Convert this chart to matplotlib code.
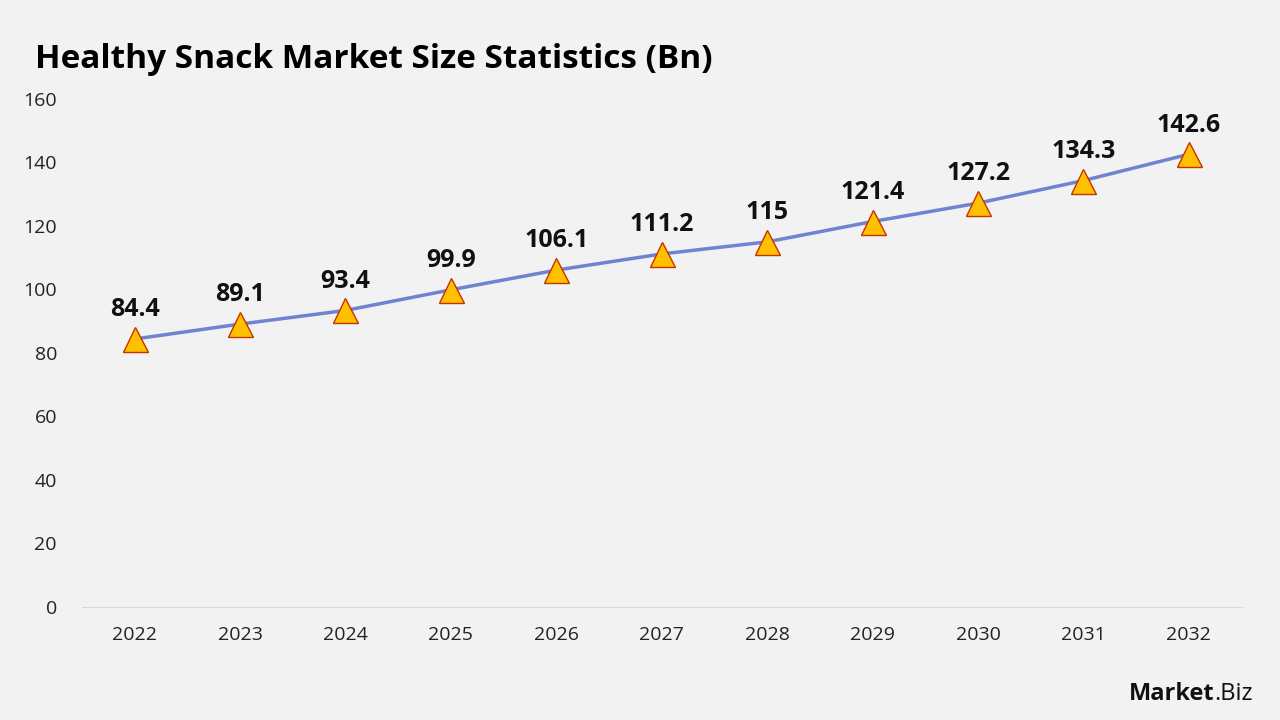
import matplotlib.pyplot as plt

years = ["2022", "2023", "2024", "2025", "2026", "2027", "2028", "2029", "2030", "2031", "2032"]
market_size = [84.4, 89.1, 93.4, 99.9, 106.1, 111.2, 115, 121.4, 127.2, 134.3, 142.6]
y_ticks = [0, 20, 40, 60, 80, 100, 120, 140, 160]

plt.rcParams['font.family'] = ['Open Sans', 'DejaVu Sans']

fig = plt.figure(figsize=(12.8, 7.2), dpi=100, facecolor='#f2f2f2')
ax = fig.add_axes([0.064, 0.157, 0.906, 0.7055])
ax.set_facecolor('#f2f2f2')

x = list(range(len(years)))
ax.plot(x, market_size, color='#7083d0', linewidth=2.5, zorder=2)
ax.plot(x, market_size, linestyle='none', marker='^', markersize=18,
        markerfacecolor='#ffc000', markeredgecolor='#c83200', markeredgewidth=1.0, zorder=3)

for xi, v in zip(x, market_size):
    ax.annotate(f"{v:g}", (xi, v), xytext=(0, 12), textcoords='offset points',
                ha='center', va='bottom', fontsize=18, fontweight='bold', color='#111111')

ax.set_xlim(-0.5, len(years) - 0.5)
ax.set_ylim(0, 160)
ax.set_yticks(y_ticks)
ax.set_xticks(x)
ax.set_xticklabels(years)
ax.tick_params(axis='both', length=0, labelsize=14, colors='#222222')
ax.tick_params(axis='y', pad=18)
ax.tick_params(axis='x', pad=14)
for side in ['top', 'right', 'left']:
    ax.spines[side].set_visible(False)
ax.spines['bottom'].set_color('#d9d9d9')

fig.text(0.027, 0.918, "Healthy Snack Market Size Statistics (Bn)", fontsize=24,
         fontweight='bold', color='#000000', ha='left', va='center')
# logo text
fig.text(0.949, 0.036, "Market", fontsize=17, fontweight='bold', color='#111111', ha='right', va='center')
fig.text(0.949, 0.036, ".Biz", fontsize=17, color='#111111', ha='left', va='center')

fig.savefig('out.png', dpi=100, facecolor=fig.get_facecolor())
